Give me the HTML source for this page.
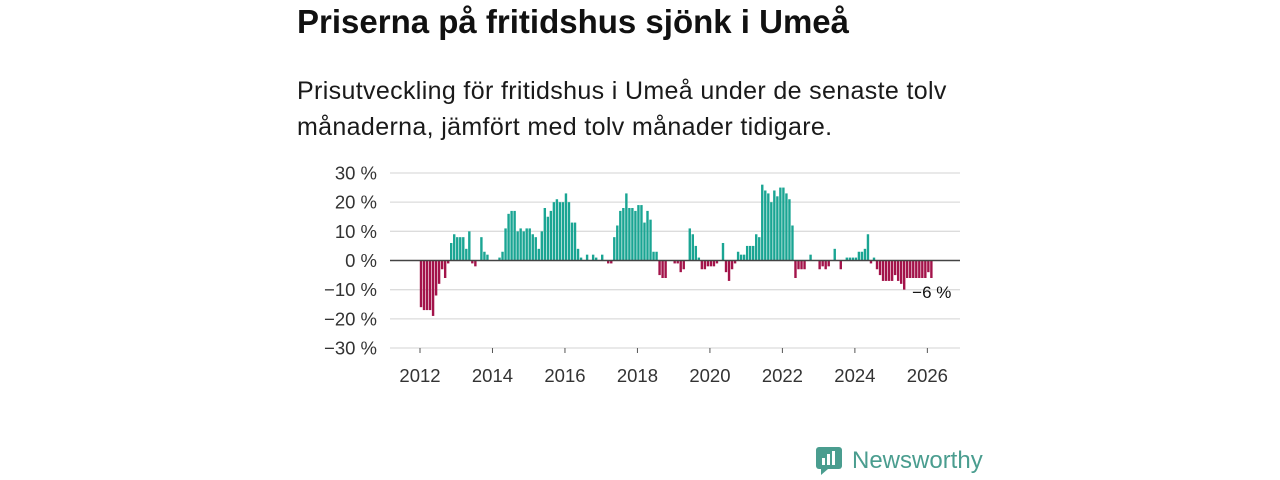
<!DOCTYPE html>
<html><head><meta charset="utf-8"><style>
body{margin:0;width:1280px;height:480px;background:#fff;font-family:"Liberation Sans","DejaVu Sans",sans-serif;overflow:hidden;position:relative}
h1{position:absolute;left:297px;top:3px;margin:0;font-size:33px;font-weight:bold;color:#111}
p{position:absolute;left:297px;top:73px;margin:0;font-size:25px;letter-spacing:0.35px;line-height:36px;color:#1a1a1a;width:760px}
svg{position:absolute;left:0;top:0}
</style></head><body>
<h1>Priserna på fritidshus sjönk i Umeå</h1>
<p>Prisutveckling för fritidshus i Umeå under de senaste tolv<br>månaderna, jämfört med tolv månader tidigare.</p>
<svg id="chart" width="1280" height="480"></svg>
<div style="position:absolute;left:815px;top:446px;display:flex;align-items:center">
<svg width="28" height="30" style="position:static"><rect x="1" y="1" width="26" height="22" rx="3" fill="#4a9d8f"/><path d="M6 23 L6 29 L13 23Z" fill="#4a9d8f"/><rect x="7" y="12" width="3" height="7" fill="#fff"/><rect x="12" y="8" width="3" height="11" fill="#fff"/><rect x="17" y="5" width="3" height="14" fill="#fff"/></svg>
<span style="font-size:24px;color:#4a9d8f;margin-left:9px;font-weight:500">Newsworthy</span></div>
<script>
const startYear = 2012;
const values = [-16,-17,-17,-17,-19,-12,-8,-3,-6,-1,
6,9,8,8,8,4,10,
-1,-2,0,
8,3,2,0,0,0,1,
3,11,16,17,17,10,11,10,11,11,9,8,4,10,18,15,17,20,21,20,20,23,20,13,13,4,1,0,2,0,
2,1,0,2,0,
-1,-1,
8,12,17,18,23,18,18,17,19,19,13,17,14,3,3,
-5,-6,-6,0,0,-1,-1,
-4,-3,0,
11,9,5,1,
-3,-3,-2,-2,-2,-1,
0,6,-4,-7,-3,-1,
3,2,2,5,5,5,9,8,
26,24,23,20,24,22,25,25,23,21,12,
-6,-3,-3,-3,0,2,0,0,
-3,-2,-3,-2,0,4,0,-3,0,1,1,1,1,3,3,4,9,-1,1,
-3,-5,-7,-7,-7,-7,-5,-7,-8,-10,-6,-6,-6,-6,-6,-6,-6,-4,-6];
const yTicks = [30,20,10,0,-10,-20,-30];
const xTicks = [2012,2014,2016,2018,2020,2022,2024,2026];
const lastLabel = "−6 %";

const svg = document.getElementById('chart');
const NS = 'http://www.w3.org/2000/svg';
const y = v => 260.5 - v * 2.917;
const x = i => 420 + i * 3.02;
const xYear = yr => x((yr - startYear) * 12);
function mk(t, a){const e=document.createElementNS(NS,t);for(const k in a)e.setAttribute(k,a[k]);svg.appendChild(e);return e;}
yTicks.forEach(t=>{
  if(t!==0){const g=mk('line',{x1:390,x2:960,y1:y(t),y2:y(t),stroke:'#dcdcdc','stroke-width':1.3});
  
  }
  const l=mk('text',{x:377,y:y(t)+6.5,'text-anchor':'end','font-size':18.5,fill:'#333'});
  l.textContent=(t<0?'−'+(-t):t)+' %';
  
  
});
values.forEach((v,i)=>{
  const r=mk('rect',{x:x(i)-0.2,y:Math.min(y(v),y(0)),width:2.4,height:Math.abs(y(v)-y(0)),fill:v>=0?'#1aa593':'#a3134a'});
  
  
});
const z=mk('line',{x1:390,x2:960,y1:y(0),y2:y(0),stroke:'#444','stroke-width':1.6});


xTicks.forEach(t=>{
  const tk=mk('line',{x1:xYear(t),x2:xYear(t),y1:348,y2:353,stroke:'#555','stroke-width':1});
  
  
  const l=mk('text',{x:xYear(t),y:382,'text-anchor':'middle','font-size':18.5,fill:'#333'});
  l.textContent=t;
  
  
});
const lx=x(values.length-1);
const a=mk('text',{x:lx+21,y:y(values[values.length-1])+20,'text-anchor':'end','font-size':17,fill:'#111'});
a.textContent=lastLabel;


</script>
</body></html>
